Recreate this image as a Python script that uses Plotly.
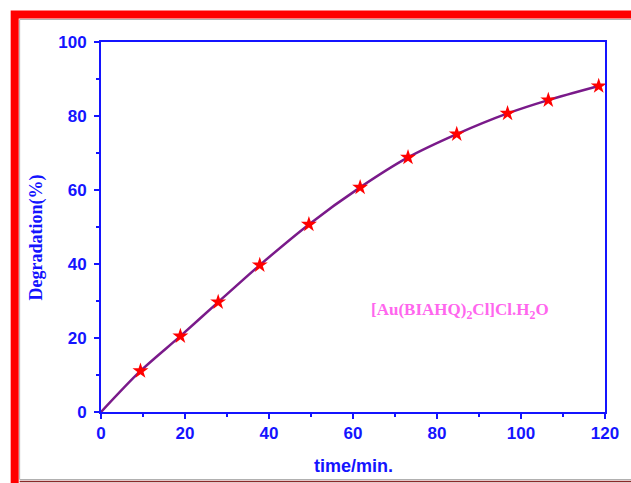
import plotly.graph_objects as go

# Data
time_min = [0, 9.4, 18.9, 27.9, 37.8, 49.5, 61.7, 73.1, 84.7, 96.8, 106.5, 118.5]
degradation = [0, 11.1, 20.5, 29.7, 39.7, 50.7, 60.7, 68.8, 75.1, 80.7, 84.3, 88.1]
x_ticks = [0, 20, 40, 60, 80, 100, 120]
y_ticks = [0, 20, 40, 60, 80, 100]

W, H = 631, 483
L, R, T, B = 101, 22, 42, 71
pw, ph = W - L - R, H - T - B

def px(x):
    return (x - L) / pw

def py(y):
    return (H - B - y) / ph

BLUE = "#1414ff"

fig = go.Figure()
fig.add_trace(go.Scatter(
    x=time_min, y=degradation, mode="lines",
    line=dict(color="#7a1a8a", width=2.5, shape="spline", smoothing=0.8),
    hoverinfo="skip", showlegend=False))
fig.add_trace(go.Scatter(
    x=time_min[1:], y=degradation[1:], mode="markers",
    marker=dict(symbol="star", size=12, color="#ff0000", line=dict(width=0)),
    showlegend=False))

axis_common = dict(
    showline=True, linecolor=BLUE, linewidth=2, mirror=True,
    ticks="outside", ticklen=5, tickwidth=2, tickcolor=BLUE,
    showgrid=False, zeroline=False,
    tickfont=dict(family="Liberation Sans, Arial", size=17, color=BLUE, weight="bold"),
)

fig.update_xaxes(range=[0, 120], tickvals=x_ticks,
                 minor=dict(dtick=10, ticks="outside", ticklen=3, tickwidth=2, tickcolor=BLUE),
                 **axis_common)
fig.update_yaxes(range=[0, 100], tickvals=y_ticks, ticklabelstandoff=4,
                 minor=dict(dtick=10, ticks="outside", ticklen=3, tickwidth=2, tickcolor=BLUE),
                 **axis_common)

# axis titles
fig.add_annotation(
    x=px(355), y=py(466), xref="paper", yref="paper", showarrow=False,
    xanchor="center", yanchor="middle", text="time/min.",
    font=dict(family="Liberation Sans, Arial", size=18, color=BLUE, weight="bold"))
fig.add_annotation(
    x=px(36), y=py(238), xref="paper", yref="paper", showarrow=False,
    xanchor="center", yanchor="middle", textangle=-90, text="Degradation(%)",
    font=dict(family="Liberation Serif, Times New Roman", size=18, color=BLUE, weight="bold"))

fig.add_annotation(
    x=px(463), y=py(311), xref="paper", yref="paper", showarrow=False,
    xanchor="center", yanchor="middle",
    text="[Au(BIAHQ)<sub>2</sub>Cl]Cl.H<sub>2</sub>O",
    font=dict(family="Liberation Serif, Times New Roman", size=17, color="#ff66ee", weight="bold"))

shapes = [
    dict(type="rect", xref="paper", yref="paper", x0=px(14), x1=px(660), y0=py(14.5), y1=py(520),
         line=dict(color="#ff0000", width=8), layer="above"),
    dict(type="rect", xref="paper", yref="paper", x0=px(19), x1=px(660), y0=py(19.5), y1=py(479.5),
         line=dict(color="#b0b0b0", width=1), layer="above"),
    dict(type="line", xref="paper", yref="paper", x0=px(19), x1=px(660), y0=py(481.5), y1=py(481.5),
         line=dict(color="#8a2a2a", width=1.5), layer="above"),
]
fig.update_layout(
    width=W, height=H, margin=dict(l=L, r=R, t=T, b=B),
    paper_bgcolor="white", plot_bgcolor="white", shapes=shapes,
)

fig.write_html("out.html")
